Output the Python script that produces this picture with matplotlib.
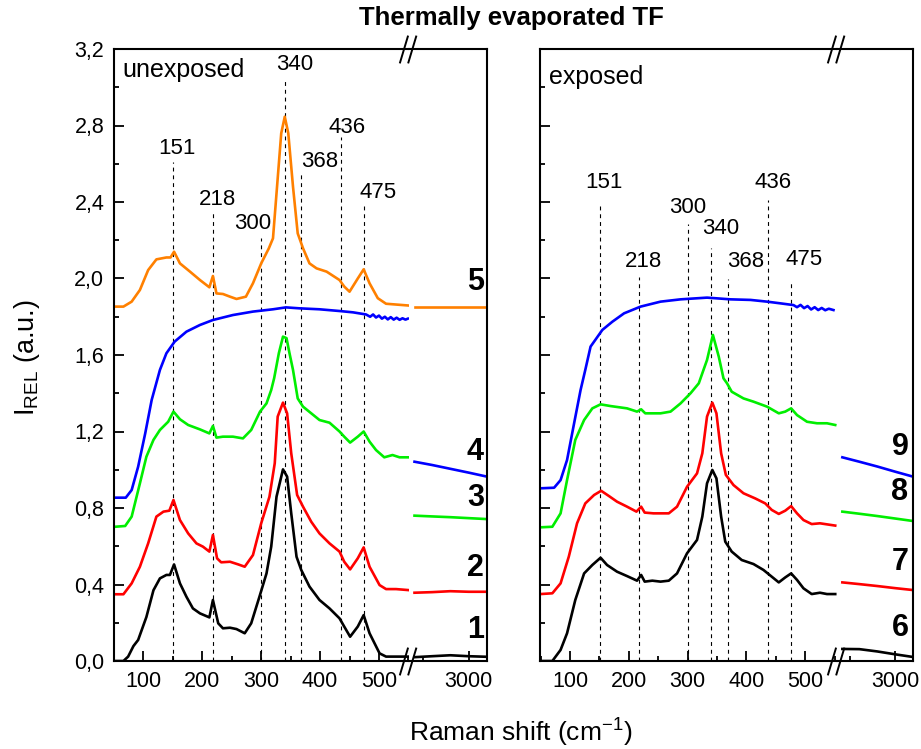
import numpy as np
import matplotlib.pyplot as plt
from matplotlib.path import Path
from matplotlib.ticker import MultipleLocator, FuncFormatter, NullFormatter

plt.rcParams['font.family'] = ['Liberation Sans', 'DejaVu Sans']

# ---------------- unexposed spectra (left panel) ----------------
u1_x = [52, 66, 74, 83, 91, 105, 117, 128, 139, 145, 152, 162, 173, 184, 196, 212, 218, 227, 235,
        247, 258, 272, 283, 297, 309, 317, 326, 337, 344, 351, 360, 368, 382, 399, 416, 433, 441,
        451, 464, 474, 484, 501, 512, 529, 549]
u1_y = [0.0, 0.0, 0.023, 0.078, 0.11, 0.23, 0.37, 0.432, 0.45, 0.45, 0.505, 0.406, 0.336, 0.275,
        0.249, 0.228, 0.319, 0.197, 0.171, 0.174, 0.167, 0.145, 0.197, 0.336, 0.458, 0.598, 0.859,
        1.002, 0.964, 0.772, 0.545, 0.476, 0.389, 0.319, 0.275, 0.223, 0.18, 0.127, 0.18, 0.24,
        0.145, 0.04, 0.023, 0.023, 0.023]

u2_x = [52, 66, 80, 94, 108, 122, 134, 144, 151, 162, 176, 190, 201, 212, 218, 225, 232, 247,
        261, 272, 286, 300, 314, 323, 328, 337, 344, 351, 361, 371, 385, 399, 416, 433, 441, 451,
        464, 474, 484, 501, 512, 529, 549]
u2_y = [0.349, 0.349, 0.406, 0.493, 0.615, 0.755, 0.781, 0.786, 0.842, 0.737, 0.667, 0.615, 0.598,
        0.572, 0.659, 0.537, 0.516, 0.519, 0.505, 0.493, 0.554, 0.72, 0.859, 1.034, 1.278, 1.351,
        1.295, 1.086, 0.868, 0.807, 0.728, 0.667, 0.615, 0.572, 0.519, 0.479, 0.537, 0.594, 0.493,
        0.397, 0.376, 0.376, 0.371]

u3_x = [52, 69, 80, 94, 105, 117, 128, 142, 151, 162, 176, 196, 212, 218, 224, 235, 252, 269,
        283, 298, 309, 317, 322, 330, 337, 343, 348, 354, 362, 371, 385, 399, 416, 433, 441, 451,
        464, 474, 484, 495, 509, 523, 535, 549]
u3_y = [0.702, 0.706, 0.755, 0.929, 1.068, 1.156, 1.208, 1.251, 1.304, 1.264, 1.234, 1.211, 1.19,
        1.229, 1.168, 1.173, 1.173, 1.164, 1.208, 1.304, 1.347, 1.417, 1.479, 1.61, 1.696, 1.688,
        1.61, 1.522, 1.373, 1.33, 1.295, 1.26, 1.246, 1.2, 1.173, 1.142, 1.173, 1.2, 1.147, 1.103,
        1.065, 1.077, 1.065, 1.065]

u4_x = [52, 70, 80, 91, 103, 114, 128, 139, 153, 173, 196, 218, 252, 286, 320, 342, 365, 399,
        433, 456, 478, 485, 490, 495, 500, 505, 510, 515, 520, 525, 530, 535, 540, 545, 549]
u4_y = [0.854, 0.854, 0.894, 1.016, 1.19, 1.365, 1.522, 1.609, 1.67, 1.722, 1.757, 1.783, 1.809,
        1.827, 1.839, 1.849, 1.844, 1.839, 1.83, 1.823, 1.812, 1.80, 1.812, 1.796, 1.806, 1.79,
        1.80, 1.786, 1.798, 1.785, 1.795, 1.784, 1.792, 1.785, 1.79]

u5_x = [52, 66, 80, 94, 108, 122, 139, 146, 152, 162, 179, 196, 212, 218, 224, 235, 247, 258,
        274, 286, 300, 313, 320, 326, 334, 340, 346, 354, 362, 371, 382, 394, 411, 433, 441, 450,
        464, 474, 484, 498, 512, 549]
u5_y = [1.853, 1.853, 1.879, 1.94, 2.044, 2.1, 2.11, 2.11, 2.14, 2.079, 2.036, 1.992, 1.954, 2.013,
        1.922, 1.919, 1.905, 1.893, 1.905, 1.975, 2.079, 2.158, 2.21, 2.445, 2.759, 2.846, 2.759,
        2.48, 2.236, 2.158, 2.079, 2.053, 2.036, 1.992, 1.958, 1.931, 2.0, 2.048, 1.975, 1.897,
        1.868, 1.859]

# ---------------- exposed spectra (right panel) ----------------
e6_x = [50, 70, 84, 95, 109, 124, 138, 152, 163, 180, 197, 214, 221, 227, 240, 254, 268, 282,
        299, 316, 325, 333, 342, 349, 357, 364, 375, 392, 412, 429, 443, 455, 466, 476, 486, 497,
        511, 525, 537, 551]
e6_y = [0.0, 0.0, 0.058, 0.145, 0.319, 0.458, 0.502, 0.54, 0.502, 0.467, 0.444, 0.42, 0.45,
        0.415, 0.42, 0.415, 0.42, 0.458, 0.563, 0.633, 0.755, 0.929, 0.999, 0.955, 0.755, 0.624,
        0.572, 0.528, 0.507, 0.476, 0.441, 0.411, 0.437, 0.458, 0.424, 0.38, 0.35, 0.357, 0.35,
        0.35]

e7_x = [50, 70, 84, 98, 112, 126, 141, 153, 166, 180, 197, 213, 221, 227, 242, 268, 282, 299,
        316, 325, 333, 342, 349, 357, 365, 378, 395, 415, 432, 443, 455, 466, 476, 486, 497, 511,
        525, 551]
e7_y = [0.35, 0.354, 0.406, 0.546, 0.72, 0.824, 0.868, 0.89, 0.863, 0.833, 0.807, 0.781, 0.807,
        0.776, 0.772, 0.772, 0.807, 0.911, 0.981, 1.086, 1.278, 1.351, 1.295, 1.086, 0.973, 0.92,
        0.877, 0.85, 0.824, 0.79, 0.769, 0.786, 0.81, 0.772, 0.737, 0.716, 0.72, 0.708]

e8_x = [50, 70, 84, 95, 109, 124, 138, 152, 169, 197, 214, 221, 228, 254, 271, 288, 305, 319,
        327, 333, 343, 353, 361, 367, 375, 395, 412, 435, 455, 466, 476, 486, 503, 520, 537, 551]
e8_y = [0.699, 0.702, 0.772, 0.946, 1.156, 1.26, 1.321, 1.342, 1.333, 1.321, 1.304, 1.316, 1.295,
        1.295, 1.304, 1.347, 1.4, 1.452, 1.522, 1.574, 1.705, 1.591, 1.478, 1.452, 1.408, 1.373,
        1.356, 1.33, 1.295, 1.304, 1.321, 1.286, 1.251, 1.243, 1.243, 1.234]

e9_x = [50, 73, 84, 95, 107, 118, 126, 135, 155, 172, 192, 220, 254, 288, 333, 373, 407, 435,
        458, 480, 486, 492, 498, 504, 510, 516, 522, 528, 534, 540, 548]
e9_y = [0.903, 0.906, 0.946, 1.051, 1.243, 1.417, 1.522, 1.644, 1.731, 1.774, 1.818, 1.853,
        1.879, 1.891, 1.9, 1.891, 1.888, 1.879, 1.87, 1.861, 1.85, 1.862, 1.845, 1.856, 1.838,
        1.85, 1.835, 1.846, 1.834, 1.842, 1.835]

# high-wavenumber part (after the axis break)
tail_x = [2705, 2800, 2900, 3000, 3100]
u1_tail = [0.02, 0.025, 0.03, 0.025, 0.022]
u2_tail = [0.357, 0.36, 0.365, 0.362, 0.362]
u3_tail = [0.76, 0.756, 0.752, 0.747, 0.742]
u4_tail = [1.042, 1.025, 1.005, 0.985, 0.964]
u5_tail = [1.853, 1.853, 1.853, 1.853, 1.853]
e6_tail = [0.063, 0.062, 0.05, 0.035, 0.021]
e7_tail = [0.411, 0.402, 0.392, 0.381, 0.371]
e8_tail = [0.781, 0.77, 0.758, 0.745, 0.732]
e9_tail = [1.065, 1.042, 1.017, 0.99, 0.964]

colors = ['black', '#ff0000', '#00ee00', '#0000ff', '#ff8000']

# peak markers
peaks = [151, 218, 300, 340, 368, 436, 475]
u_line_top = [2.61, 2.35, 2.21, 3.05, 2.55, 2.74, 2.395]
u_lab_x = [157, 225, 286, 357, 400, 445, 498]
u_lab_y = [2.68, 2.415, 2.29, 3.12, 2.61, 2.79, 2.45]
e_line_top = [2.38, 2.01, 2.285, 2.16, 2.0, 2.41, 1.98]
e_lab_x = [157, 225, 300, 357, 399, 446, 498]
e_lab_y = [2.50, 2.09, 2.37, 2.26, 2.09, 2.50, 2.10]

u_num_y = [0.162, 0.486, 0.852, 1.093, 1.98]
e_num_y = [0.173, 0.518, 0.884, 1.119]

W, H = 921, 749
fig = plt.figure(figsize=(W / 100, H / 100), dpi=100)


def px_axes(x0, x1, y0=49, y1=661):
    return fig.add_axes([x0 / W, (H - y1) / H, (x1 - x0) / W, (y1 - y0) / H])


brk = Path([(-7, -10), (-1, 10), (-1, -10), (5, 10)],
           [Path.MOVETO, Path.LINETO, Path.MOVETO, Path.LINETO])


def setup(main, tail, xlim, ylabels):
    for ax in (main, tail):
        ax.set_ylim(0, 3.2)
        for s in ax.spines.values():
            s.set_linewidth(1.5)
        ax.tick_params(which='both', direction='in', width=1.3, labelsize=15.5, pad=7,
                       top=False, right=False)
        ax.tick_params(which='major', length=7.5)
        ax.tick_params(which='minor', length=3.8)
    main.set_xlim(*xlim)
    main.spines['right'].set_visible(False)
    main.xaxis.set_major_locator(MultipleLocator(100))
    main.xaxis.set_minor_locator(MultipleLocator(50))
    main.yaxis.set_major_locator(MultipleLocator(0.4))
    main.yaxis.set_minor_locator(MultipleLocator(0.2))
    if ylabels:
        main.yaxis.set_major_formatter(FuncFormatter(lambda v, p: f'{v:.1f}'.replace('.', ',')))
    else:
        main.yaxis.set_major_formatter(NullFormatter())
    tail.set_xlim(2675, 3100)
    tail.spines['left'].set_visible(False)
    tail.tick_params(which='both', left=False, labelleft=False)
    tail.xaxis.set_major_locator(MultipleLocator(500))
    tail.xaxis.set_minor_locator(MultipleLocator(250))
    tail.plot([0, 0], [0, 1], transform=tail.transAxes, marker=brk, markersize=20,
              mfc='none', mec='k', mew=1.4, linestyle='none', clip_on=False)


def draw_peaks(ax, tops, lab_x, lab_y):
    ax.vlines(peaks, 0, tops, colors='k', linewidth=0.8, linestyles=(0, (3.5, 3.5)))
    for p, lx, ly in zip(peaks, lab_x, lab_y):
        ax.text(lx, ly, str(p), fontsize=16, ha='center', va='center')


# left panel
axL = px_axes(114, 409)
axLt = px_axes(409, 487)
setup(axL, axLt, (50, 551), True)
draw_peaks(axL, u_line_top, u_lab_x, u_lab_y)
for xs, ys, tl, c in zip([u1_x, u2_x, u3_x, u4_x, u5_x], [u1_y, u2_y, u3_y, u4_y, u5_y],
                         [u1_tail, u2_tail, u3_tail, u4_tail, u5_tail], colors):
    axL.plot(xs, ys, color=c, lw=1.9, solid_joinstyle='round')
    axLt.plot(tail_x, tl, color=c, lw=1.9)
for i, y in enumerate(u_num_y):
    axLt.text(0.96, y, str(i + 1), transform=axLt.get_yaxis_transform(), fontsize=22,
              fontweight='bold', ha='right', va='center')
axL.text(8 / 295, 0.965, 'unexposed', transform=axL.transAxes, fontsize=18, va='center')

# right panel
axR = px_axes(540, 837)
axRt = px_axes(837, 913)
setup(axR, axRt, (49, 554), False)
draw_peaks(axR, e_line_top, e_lab_x, e_lab_y)
for xs, ys, tl, c in zip([e6_x, e7_x, e8_x, e9_x], [e6_y, e7_y, e8_y, e9_y],
                         [e6_tail, e7_tail, e8_tail, e9_tail], colors):
    axR.plot(xs, ys, color=c, lw=1.9, solid_joinstyle='round')
    axRt.plot(tail_x, tl, color=c, lw=1.9)
for i, y in enumerate(e_num_y):
    axRt.text(0.94, y, str(i + 6), transform=axRt.get_yaxis_transform(), fontsize=22,
              fontweight='bold', ha='right', va='center')
axR.text(9 / 297, 0.955, 'exposed', transform=axR.transAxes, fontsize=18, va='center')

fig.text(511 / W, 1 - 18 / H, 'Thermally evaporated TF', fontsize=18.5, fontweight='bold',
         ha='center', va='center')
fig.text(521 / W, 1 - 732 / H, r'Raman shift (cm$^{\mathregular{-1}}$)', fontsize=19,
         ha='center', va='center')
fig.text(27 / W, 1 - 358 / H, r'I$_{\mathregular{REL}}$ (a.u.)', fontsize=19.5, rotation=90,
         ha='center', va='center')

fig.savefig('out.png', dpi=100)
